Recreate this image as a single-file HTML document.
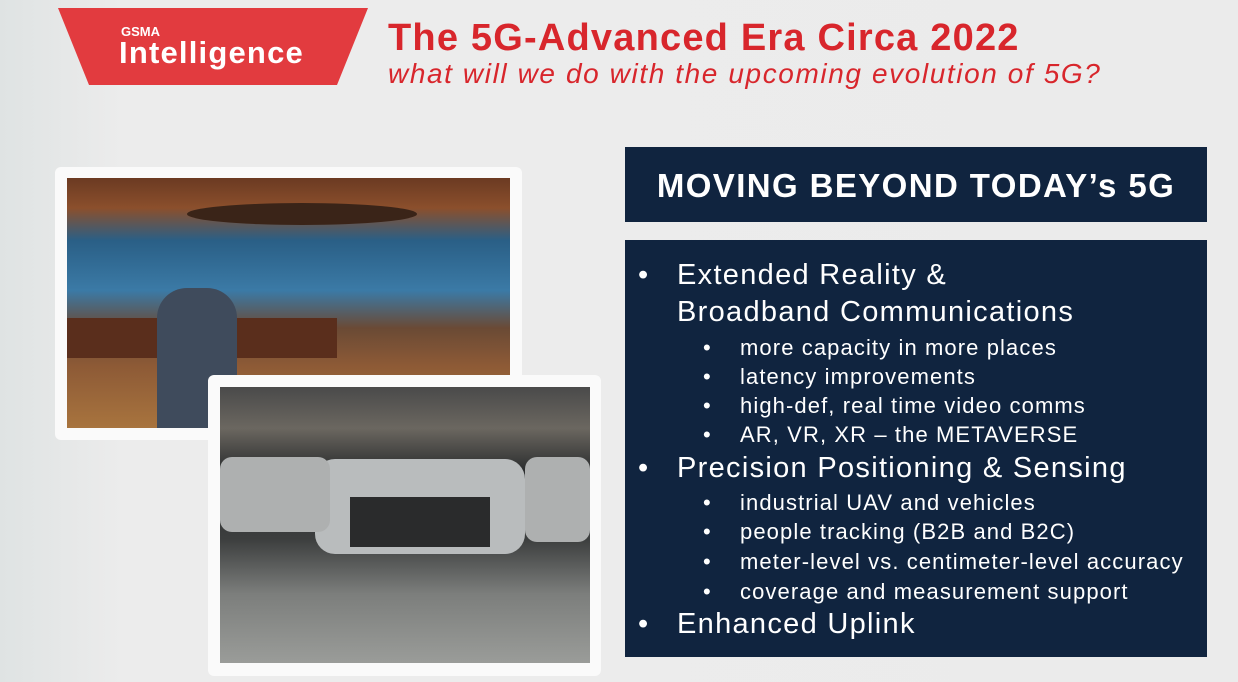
<!DOCTYPE html>
<html><head><meta charset="utf-8"><style>
*{margin:0;padding:0;box-sizing:border-box}
body{width:1238px;height:682px;overflow:hidden;background:linear-gradient(90deg,#dfe3e3 0%,#ececec 10%,#ebebeb 100%);font-family:"Liberation Sans",sans-serif;position:relative}
.a{position:absolute}
.logo{left:58px;top:8px;width:310px;height:77px;background:#e23b3f;clip-path:polygon(0 0,100% 0,90% 100%,10% 100%)}
.t1{left:388px;top:17px;color:#d8262c;font-weight:bold;font-size:38px;letter-spacing:1.2px;white-space:nowrap}
.t2{left:388px;top:58px;color:#d8262c;font-style:italic;font-size:28px;letter-spacing:1.6px;white-space:nowrap}
.hdr{left:625px;top:147px;width:582px;height:75px;background:#10243f;color:#fff;font-weight:bold;font-size:33px;letter-spacing:1.4px;text-align:center;line-height:78px}
.body{left:625px;top:240px;width:582px;height:417px;background:#10243f;color:#fff}
.l{position:absolute;white-space:nowrap}
.b1{left:13px;font-size:29px;letter-spacing:1.3px}
.b1 span{position:absolute;left:39px}
.b2{left:78px;font-size:22px;letter-spacing:1.1px}
.b2 span{position:absolute;left:37px}
.f1{left:55px;top:167px;width:467px;height:273px;background:#fafafa;border-radius:6px}
.p1{left:67px;top:178px;width:443px;height:250px;background:linear-gradient(180deg,#6b3a22 0%,#8b4f2c 12%,#2a5f86 25%,#3b7aa6 45%,#6a4a35 60%,#8d5a36 75%,#a8743e 100%)}
.f2{left:208px;top:375px;width:393px;height:301px;background:#fafafa;border-radius:6px}
.p2{left:220px;top:387px;width:370px;height:276px;background:linear-gradient(180deg,#4a4a4a 0%,#6b6760 15%,#2d2f30 30%,#3c3e3e 55%,#7c7e7c 75%,#9a9c99 100%)}
</style></head><body>
<div class="a logo"></div>
<div class="a" style="left:121px;top:24px;color:#fff;font-size:13px;font-weight:bold">GSMA</div>
<div class="a" style="left:119px;top:35px;color:#fff;font-size:31px;font-weight:bold;letter-spacing:1.2px">Intelligence</div>
<div class="a t1">The 5G-Advanced Era Circa 2022</div>
<div class="a t2">what will we do with the upcoming evolution of 5G?</div>
<div class="a f1"></div>
<div class="a p1">
 <div class="a" style="left:120px;top:25px;width:230px;height:22px;border-radius:50%;background:#3a2418"></div>
 <div class="a" style="left:0;top:140px;width:270px;height:40px;background:#5a2e1c"></div>
 <div class="a" style="left:90px;top:110px;width:80px;height:140px;background:#3f4b5c;border-radius:30px 30px 0 0"></div>
</div>
<div class="a f2"></div>
<div class="a p2">
 <div class="a" style="left:95px;top:72px;width:210px;height:95px;background:#b9bcbd;border-radius:20px"></div>
 <div class="a" style="left:0;top:70px;width:110px;height:75px;background:#aeb0b0;border-radius:12px"></div>
 <div class="a" style="left:305px;top:70px;width:65px;height:85px;background:#aeb0b0;border-radius:12px"></div>
 <div class="a" style="left:130px;top:110px;width:140px;height:50px;background:#2a2b2c"></div>
</div>
<div class="a hdr">MOVING BEYOND TODAY’s 5G</div>
<div class="a body">
 <div class="l b1" style="top:19px">•<span>Extended Reality &amp;</span></div>
 <div class="l b1" style="top:56px"><span>Broadband Communications</span></div>
 <div class="l b2" style="top:95px">•<span>more capacity in more places</span></div>
 <div class="l b2" style="top:124px">•<span>latency improvements</span></div>
 <div class="l b2" style="top:153px">•<span>high-def, real time video comms</span></div>
 <div class="l b2" style="top:182px">•<span>AR, VR, XR – the METAVERSE</span></div>
 <div class="l b1" style="top:212px">•<span>Precision Positioning &amp; Sensing</span></div>
 <div class="l b2" style="top:250px">•<span>industrial UAV and vehicles</span></div>
 <div class="l b2" style="top:279px">•<span>people tracking (B2B and B2C)</span></div>
 <div class="l b2" style="top:309px">•<span>meter-level vs. centimeter-level accuracy</span></div>
 <div class="l b2" style="top:339px">•<span>coverage and measurement support</span></div>
 <div class="l b1" style="top:368px">•<span>Enhanced Uplink</span></div>
</div>
</body></html>
